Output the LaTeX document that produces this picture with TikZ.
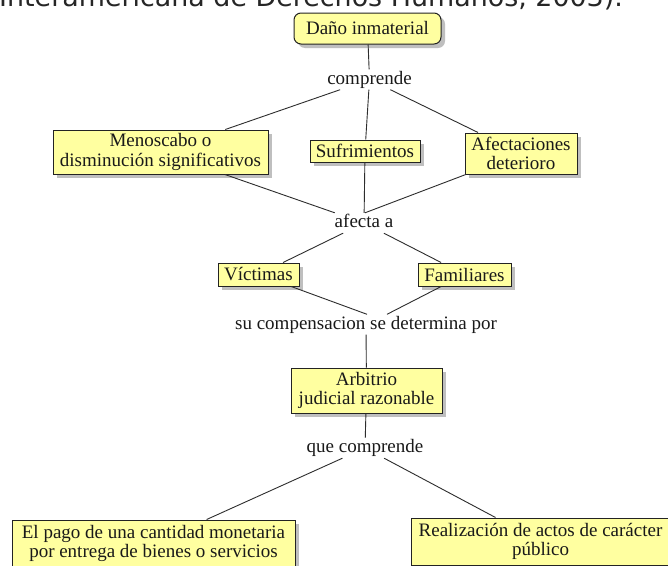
\documentclass[tikz,border=0pt]{standalone}
\usepackage{fontspec}
\setmainfont{Liberation Serif}
\newfontfamily\topfont{DejaVu Sans}
\usetikzlibrary{shadows}
\definecolor{boxfill}{RGB}{255,255,160}
\definecolor{edgecol}{RGB}{35,35,35}
\definecolor{linkcol}{RGB}{45,45,45}
\begin{document}
\begin{tikzpicture}[x=1pt,y=-1pt,
  concept/.style={draw=edgecol, line width=1pt, fill=boxfill, inner sep=0pt, align=center,
    font=\fontsize{19}{19.5}\selectfont, text=black!90,
    drop shadow={shadow xshift=4pt, shadow yshift=-4pt, fill=black!25, opacity=1}},
  phrase/.style={inner xsep=1pt, inner ysep=1.5pt, text height=13pt, text depth=4pt,
    font=\fontsize{19}{19.5}\selectfont, text=black!90},
  link/.style={draw=linkcol, line width=0.9pt}]
\useasboundingbox (0,0) rectangle (668,565);
\clip (0,0) rectangle (668,565);
\fill[white] (0,0) rectangle (668,565);

\node[anchor=base west, inner sep=0pt, font=\topfont\fontsize{26.9}{30}\selectfont, text=black!85] (cite) at (-1,6.5) {Interamericana de Derechos Humanos, 2003).};

\node[concept, rounded corners=7pt, minimum width=147pt, minimum height=31pt] (dano) at (367.5,28.5) {Daño inmaterial};
\node[phrase] (comp) at (369.5,79.5) {comprende};
\node[concept, minimum width=215pt, minimum height=44pt] (meno) at (160.5,152) {Menoscabo o\\disminución significativos};
\node[concept, minimum width=110pt, minimum height=22pt] (sufr) at (365,151) {Sufrimientos};
\node[concept, minimum width=112pt, minimum height=41pt] (afec) at (521,153.5) {Afectaciones\\deterioro};
\node[phrase] (afa) at (364,223) {afecta a};
\node[concept, minimum width=81pt, minimum height=23pt] (vict) at (258.5,274.5) {Víctimas};
\node[concept, minimum width=93pt, minimum height=23pt] (fam) at (464.5,274.5) {Familiares};
\node[phrase] (scomp) at (366,324.5) {su compensacion se determina por};
\node[concept, minimum width=151pt, minimum height=45pt] (arb) at (366.5,390.5) {Arbitrio\\judicial razonable};
\node[phrase] (qcomp) at (365,448) {que comprende};
\node[concept, minimum width=283pt, minimum height=47pt] (pago) at (153.5,543.5) {El pago de una cantidad monetaria\\por entrega de bienes o servicios};
\node[concept, minimum width=259pt, minimum height=47pt] (real) at (540.5,541.5) {Realización de actos de carácter\\público};

\draw[link] (dano) -- (comp);
\draw[link] (comp) -- (meno);
\draw[link] (comp) -- (sufr);
\draw[link] (comp) -- (afec);
\draw[link] (meno) -- (afa);
\draw[link] (sufr) -- (afa);
\draw[link] (afec) -- ([xshift=1pt]afa.north);
\draw[link] (afa) -- (vict);
\draw[link] (afa) -- (fam);
\draw[link] (vict) -- ([xshift=1pt]scomp.north);
\draw[link] (fam) -- ([xshift=21pt]scomp.north);
\draw[link] (scomp) -- (arb);
\draw[link] (arb) -- (qcomp);
\draw[link] (qcomp) -- (pago);
\draw[link] (qcomp) -- (real);
\end{tikzpicture}
\end{document}
